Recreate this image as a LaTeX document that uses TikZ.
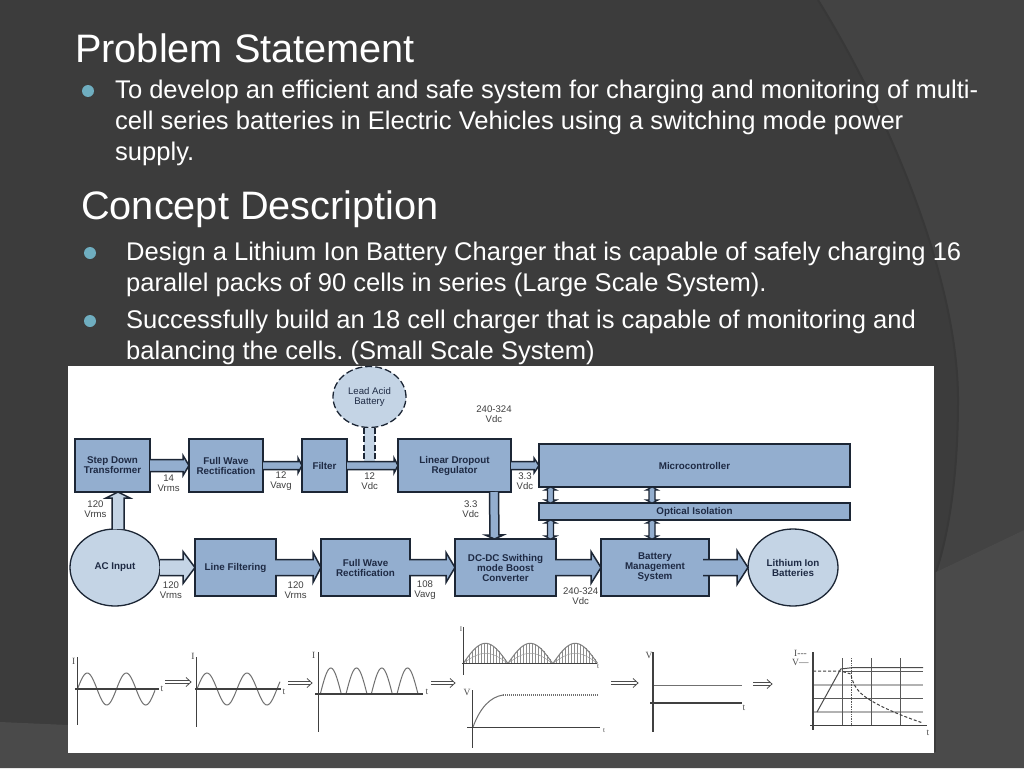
\documentclass[tikz,border=0pt]{standalone}
\usepackage{fontspec}
\setmainfont{Liberation Sans}
\newfontfamily\tickfont{Liberation Serif}
\usepackage{xcolor}
\usetikzlibrary{positioning,arrows.meta,calc,shapes.geometric}
\definecolor{cSlide}{HTML}{3C3C3C}
\definecolor{cSlideR}{HTML}{434343}
\definecolor{cSlideB}{HTML}{4A4A4A}
\definecolor{cShade}{HTML}{383838}
\definecolor{cBullet}{HTML}{6FAEC0}
\definecolor{cBlock}{HTML}{93AECF}
\definecolor{cPale}{HTML}{C4D4E5}
\definecolor{cEdge}{HTML}{1C2635}
\definecolor{cInk}{HTML}{1E2A44}
\definecolor{cVolt}{HTML}{3F3F3F}
\definecolor{cWave}{HTML}{707070}

% block arrow: [fill]{from}{to}{half shaft}{half head}{head length}
\newcommand{\flowarrow}[6][cBlock]{%
  \coordinate (hb) at ($(#3)!#6!(#2)$);
  \draw[flowedge, fill=#1] ($(#2)!#4!90:(#3)$) -- ($(hb)!#4!90:(#3)$) -- ($(hb)!#5!90:(#3)$)
    -- (#3) -- ($(hb)!#5!-90:(#3)$) -- ($(hb)!#4!-90:(#3)$) -- ($(#2)!#4!-90:(#3)$);
}
% the same with a head at each end
\newcommand{\flowboth}[5][cBlock]{%
  \coordinate (ha) at ($(#2)!#5!(#3)$);
  \coordinate (hb) at ($(#3)!#5!(#2)$);
  \draw[flowedge, fill=#1, line width=1.1pt] (#2) -- ($(ha)!6pt!90:(#3)$) -- ($(ha)!#4!90:(#3)$) -- ($(hb)!#4!-90:(#2)$)
    -- ($(hb)!6pt!-90:(#2)$) -- (#3) -- ($(hb)!6pt!90:(#2)$) -- ($(hb)!#4!90:(#2)$)
    -- ($(ha)!#4!-90:(#3)$) -- ($(ha)!6pt!-90:(#3)$) -- cycle;
}

\begin{document}
\frenchspacing
\begin{tikzpicture}[
  x=1pt, y=-1pt,
  font=\fontsize{9.6pt}{10pt}\selectfont,
  flowedge/.style={draw=cEdge, line width=1.5pt, line join=miter},
  block/.style={draw=cEdge, fill=cBlock, line width=1.3pt, inner sep=0pt, outer sep=0pt, align=center, text=cInk,
    minimum height=53pt, font=\fontsize{9.8pt}{10pt}\selectfont\bfseries},
  lowblock/.style={block, minimum height=57pt},
  wide/.style={block, minimum width=311pt},
  oval/.style={draw=cEdge, fill=cPale, line width=1.3pt, ellipse, inner sep=0pt, outer sep=0pt, align=center, text=cInk,
    minimum width=90pt, minimum height=77pt, font=\fontsize{9.8pt}{10pt}\selectfont\bfseries},
  volt/.style={text=cVolt, align=center, inner sep=0pt},
  head/.style={text=white, anchor=base west, inner sep=0pt, font=\fontsize{39.7pt}{46pt}\selectfont},
  para/.style={text=white, anchor=north west, inner sep=0pt, align=left, font=\fontsize{25.55pt}{31pt}\selectfont},
  dotmark/.style={circle, fill=cBullet, minimum size=12pt, inner sep=0pt},
  axis/.style={draw=black!75, line width=1.2pt},
  curve/.style={draw=cWave, line width=1pt},
  nextline/.style={draw=black!70, line width=0.8pt},
  tick/.style={text=black!70, inner sep=0pt, font=\tickfont\fontsize{9.5pt}{10pt}\selectfont},
]
\useasboundingbox (0,0) rectangle (1024,768);

% ---------- slide background ----------
\fill[cSlide] (0,0) rectangle (1024,768);
\fill[cSlideR] (818,0) .. controls (880,100) and (958,270) .. (958,400)
  .. controls (958,470) and (950,530) .. (936,572) -- (1024,530) -- (1024,0) -- cycle;
\draw[cShade, line width=2pt] (818,0) .. controls (880,100) and (958,270) .. (958,400)
  .. controls (958,470) and (950,530) .. (936,572);
\fill[cSlideB] (936,572) -- (1024,530) -- (1024,768) -- (0,768) -- (0,722) -- (68,725) -- (68,752) -- (936,752) -- cycle;

% ---------- slide text ----------
\node[head] (title1) at (75,63) {Problem Statement};
\node[dotmark] (dot1) at (88,91) {};
\node[para] (text1) at (115,80) {To develop an efficient and safe system for charging and monitoring of multi-\\cell series batteries in Electric Vehicles using a switching mode power\\supply.};
\node[head] (title2) at (81,219) {Concept Description};
\node[dotmark] (dot2) at (90,253) {};
\node[para] (text2) at (126,242) {Design a Lithium Ion Battery Charger that is capable of safely charging 16\\parallel packs of 90 cells in series (Large Scale System).};
\node[dotmark] (dot3) at (90,321) {};
\node[para] (text3) at (126,310) {Successfully build an 18 cell charger that is capable of monitoring and\\balancing the cells. (Small Scale System)};

% ---------- white panel ----------
\fill[white] (68,366) rectangle (934,753);

% ---------- upper row ----------
\node[block, minimum width=75pt, anchor=north west] (stepdown) at (75,439) {Step Down\\Transformer};
\node[block, minimum width=74pt, right=39pt of stepdown] (fwr1) {Full Wave\\Rectification};
\node[block, minimum width=45pt, right=39pt of fwr1] (filter) {Filter};
\node[block, minimum width=113pt, right=51pt of filter] (ldo) {Linear Dropout\\Regulator};
\node[wide, minimum height=43pt, anchor=north west] (micro) at (539,444) {Microcontroller};
\node[wide, minimum height=17pt, anchor=north west] (optical) at (539,503) {Optical Isolation};
\node[oval, minimum width=73pt, minimum height=61pt, font=\fontsize{9.6pt}{10pt}\selectfont, dashed, dash pattern=on 7pt off 3pt] (lead) at (369.5,397) {Lead Acid\\Battery};

% ---------- lower row ----------
\node[oval] (acin) at (115,567.5) {AC Input};
\node[lowblock, minimum width=81pt, anchor=north west] (linefilt) at (195,539) {Line Filtering};
\node[lowblock, minimum width=89pt, right=45pt of linefilt] (fwr2) {Full Wave\\Rectification};
\node[lowblock, minimum width=101pt, right=45pt of fwr2] (dcdc) {DC-DC Swithing\\mode Boost\\Converter};
\node[lowblock, minimum width=108pt, right=45pt of dcdc] (bms) {Battery\\Management\\System};
\node[oval] (liion) at (793,567.5) {Lithium Ion\\Batteries};

% ---------- battery feed ----------
\fill[cPale] ($(lead.south)+(-5.5,0)$) rectangle ($(lead.south)+(5.5,34)$);
\draw[cEdge, line width=1.5pt, dash pattern=on 6pt off 2.5pt] ($(lead.south)+(-5.5,0)$) -- ($(lead.south)+(-5.5,34)$);
\draw[cEdge, line width=1.5pt, dash pattern=on 6pt off 2.5pt] ($(lead.south)+(5.5,0)$) -- ($(lead.south)+(5.5,34)$);

% ---------- arrows ----------
\flowarrow{stepdown.east}{fwr1.west}{6pt}{10pt}{6pt}
\flowarrow{fwr1.east}{filter.west}{4pt}{7.5pt}{4pt}
\flowarrow{filter.east}{ldo.west}{4pt}{7.5pt}{4pt}
\flowarrow{ldo.east}{micro.west}{4pt}{7.5pt}{5pt}
\flowarrow[cPale]{$(acin.north)+(3,0)$}{$(stepdown.south)+(5.5,0)$}{6pt}{12pt}{6pt}
\flowarrow[cBlock]{$(ldo.south)+(39.5,0)$}{$(dcdc.north)+(-11,0)$}{4.5pt}{9pt}{4pt}
\flowarrow[cPale]{acin.east}{linefilt.west}{8pt}{16pt}{12pt}
\flowarrow{$(linefilt.east)+(-1,0)$}{fwr2.west}{8pt}{15pt}{8pt}
\flowarrow{$(fwr2.east)+(-1,0)$}{dcdc.west}{8pt}{15pt}{9pt}
\flowarrow{$(dcdc.east)+(-1,0)$}{bms.west}{8pt}{16pt}{10pt}
\flowarrow{$(bms.east)+(-6,0)$}{liion.west}{8pt}{17pt}{11pt}
\flowboth{$(micro.south west)+(11.5,0)$}{$(optical.north west)+(11.5,0)$}{3pt}{3pt}
\flowboth{$(micro.south west)+(113,0)$}{$(optical.north west)+(113,0)$}{3pt}{3pt}
\flowboth{$(optical.south west)+(11.5,0)$}{$(dcdc.north east)+(-5.5,0)$}{3pt}{3pt}
\flowboth{$(optical.south west)+(113,0)$}{$(bms.north west)+(51,0)$}{3pt}{3pt}

% ---------- voltage labels ----------
\node[volt] (v14) at (168.7,483.7) {14\\Vrms};
\node[volt] (v12a) at (281,481) {12\\Vavg};
\node[volt] (v12d) at (369.7,481) {12\\Vdc};
\node[volt] (vtop) at (494,414) {240-324\\Vdc};
\node[volt] (v33a) at (525,481.5) {3.3\\Vdc};
\node[volt] (v120a) at (95.5,509) {120\\Vrms};
\node[volt] (v33b) at (470.7,509) {3.3\\Vdc};
\node[volt] (v120b) at (171,590) {120\\Vrms};
\node[volt] (v120c) at (295.7,590) {120\\Vrms};
\node[volt] (v108) at (425,590) {108\\Vavg};
\node[volt] (vbot) at (580.7,596) {240-324\\Vdc};

% ---------- wave 1: mains current ----------
\draw[curve] plot[domain=77.5:155, samples=60, smooth] (\x,{689-16*sin((\x-77.5)/39*360)});
\draw[axis] (77.3,657) -- (77.3,725);
\draw[axis] (75,689) -- (159,689);
\node[tick] (i1) at (73.7,661) {I};
\node[tick] (t1) at (162,689) {t};

% ---------- wave 2: after line filter ----------
\draw[curve] plot[domain=197:280, samples=60, smooth] (\x,{689-16*sin((\x-197)/40*360)});
\draw[axis] (196.3,657) -- (196.3,727);
\draw[axis] (195,689) -- (281,689);
\node[tick] (i2) at (193,656) {I};
\node[tick] (t2) at (284,692) {t};

% ---------- wave 3: rectified ----------
\foreach \xa in {320.3,346,371.3,397}
  \draw[curve] plot[domain=0:180, samples=25, smooth] ({\xa+\x*21/180},{694-26*sin(\x)});
\draw[axis] (318.7,652) -- (318.7,732);
\draw[axis] (315,694) -- (423,694);
\node[tick] (i3) at (313.7,655) {I};
\node[tick] (t3) at (427,692) {t};

% ---------- wave 4: boost current and voltage ----------
\foreach \xa in {463.3,508,553}{
  \foreach \k in {1,...,14}
    \draw[black!45, line width=0.6pt] ({\xa+\k*3}, 663) -- ({\xa+\k*3}, {663-20*sin(\k*3*4)});
  \draw[curve, black!50] plot[domain=0:180, samples=25, smooth] ({\xa+\x*44.5/180},{663.3-20*sin(\x)});
  \draw[black!40, line width=0.5pt] plot[domain=0:180, samples=25, smooth] ({\xa+\x*44.5/180},{663.3-10*sin(\x)});
}
\draw[axis] (463.3,627) -- (463.3,675);
\draw[axis] (462,663.3) -- (597,663.3);
\node[tick, font=\tickfont\fontsize{7pt}{8pt}\selectfont] (i4) at (461,629) {I};
\node[tick, font=\tickfont\fontsize{7pt}{8pt}\selectfont] (t4) at (598,667) {t};
\draw[curve] (473,727) .. controls (480,708) and (490,697) .. (503,695);
\draw[curve, densely dotted, line width=1.2pt] (503,695) -- (598,695);
\draw[axis] (472.7,690) -- (472.7,748);
\draw[axis] (467,727.7) -- (600,727.7);
\node[tick] (v4) at (467,692) {V};
\node[tick, font=\tickfont\fontsize{7pt}{8pt}\selectfont] (t5) at (604,731) {t};

% ---------- wave 5: filtered dc ----------
\draw[curve] (653,685) -- (742,685);
\draw[axis] (653,652) -- (653,732);
\draw[axis] (650,703) -- (742,703);
\node[tick] (v5) at (649,655) {V};
\node[tick] (t6) at (744,708) {t};

% ---------- wave 6: charge profile ----------
\foreach \yg in {685,712}
  \draw[black!30, line width=1.1pt] (813,\yg) -- (923,\yg);
\draw[black!65, line width=0.7pt] (813,698) -- (923,698);
\foreach \xg in {842,871.7,900}
  \draw[black!65, line width=0.7pt] (\xg,658) -- (\xg,726);
\draw[black!65, line width=0.7pt, densely dotted] (851.7,658) -- (851.7,726);
\draw[black!65, line width=0.7pt] (842,671) -- (923,671);
\draw[black!70, line width=1pt] (817,712) -- (840.7,669) -- (851.7,667.7) -- (923,667.7);
\draw[black!75, line width=1pt, densely dashed] (813,671) -- (840.7,671) -- (851,674)
  .. controls (853,690) and (865,697) .. (871.7,701) .. controls (885,709) and (905,717) .. (923,723);
\draw[axis] (813,652) -- (813,730);
\draw[axis] (810,725.7) -- (927,725.7);
\node[tick, anchor=west] (ilab) at (794,653) {I---};
\node[tick, anchor=west] (vlab) at (792,662) {V—};
\node[tick] (t7) at (928,733) {t};

% double arrows between the waves
\foreach \xa/\ya/\xb in {165/682/191, 288/683/312, 431/683/455, 611/683/638, 753/684/772}{
  \draw[nextline] (\xa,{\ya-1.8}) -- ({\xb-2},{\ya-1.8}) (\xa,{\ya+1.8}) -- ({\xb-2},{\ya+1.8});
  \draw[nextline] ({\xb-5},{\ya-4.5}) -- (\xb,\ya) -- ({\xb-5},{\ya+4.5});
}

\end{tikzpicture}
\end{document}
